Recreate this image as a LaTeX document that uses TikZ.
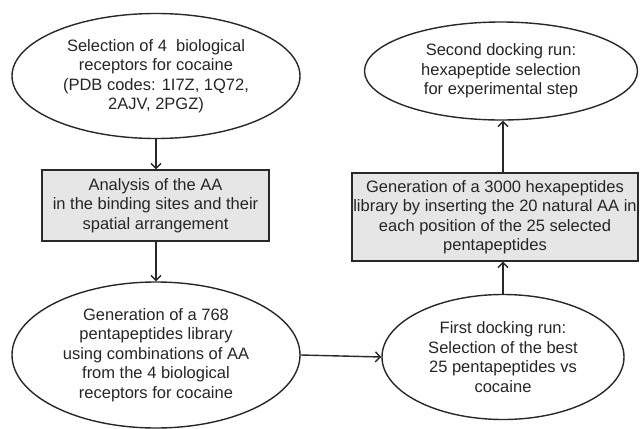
\documentclass[tikz,border=0pt]{standalone}
\usepackage{fontspec}
\setmainfont{Liberation Sans}
\usetikzlibrary{shapes.geometric,arrows.meta}
\definecolor{linec}{HTML}{282828}
\definecolor{textc}{HTML}{252525}
\definecolor{boxfill}{HTML}{E6E6E6}
\tikzset{
  ell/.style={ellipse, draw=linec, line width=1.4pt, inner sep=0pt, align=center, text=textc,
    font=\fontsize{16.5}{19.5}\selectfont},
  gbox/.style={rectangle, draw=linec, line width=1.4pt, fill=boxfill, inner sep=0pt, align=center, text=textc,
    font=\fontsize{16.5}{19.5}\selectfont},
  conn/.style={draw=linec, line width=1.4pt, -{Straight Barb[length=5pt,width=10pt,line width=1.4pt]}}
}
\begin{document}
\begin{tikzpicture}[x=1pt,y=-1pt]
\useasboundingbox (0,0) rectangle (641,429);
\node[ell, minimum width=288pt, minimum height=125pt] (e1) at (156,76)
  {Selection of 4\ \ biological\\receptors for cocaine\\(PDB codes: 1I7Z, 1Q72,\\2AJV, 2PGZ)};
\node[gbox, minimum width=227pt, minimum height=71pt] (b1) at (155.5,205.5)
  {Analysis of the AA\\in the binding sites and their\\spatial arrangement};
\node[ell, minimum width=288pt, minimum height=146pt] (e2) at (156,355)
  {Generation of a 768\\pentapeptides library\\using combinations of AA\\from the 4 biological\\receptors for cocaine};
\node[ell, minimum width=242pt, minimum height=125pt] (e3) at (503,357)
  {First docking run:\\Selection of the best\\25 pentapeptides vs\\cocaine};
\node[gbox, minimum width=286pt, minimum height=88pt] (b2) at (495,217)
  {Generation of a 3000 hexapeptides\\library by inserting the 20 natural AA in\\each position of the 25 selected\\pentapeptides};
\node[ell, minimum width=273pt, minimum height=98pt] (e4) at (501,71)
  {Second docking run:\\hexapeptide selection\\for experimental step};
\draw[conn] (e1.south) -- (b1.north -| e1.south);
\draw[conn] (b1.south -| e2.north) -- (e2.north);
\draw[conn] (e2.east) -- (e3.west);
\draw[conn] (e3.north) -- (b2.south -| e3.north);
\draw[conn] (b2.north -| e3.north) -- (e4.south -| e3.north);
\end{tikzpicture}
\end{document}
